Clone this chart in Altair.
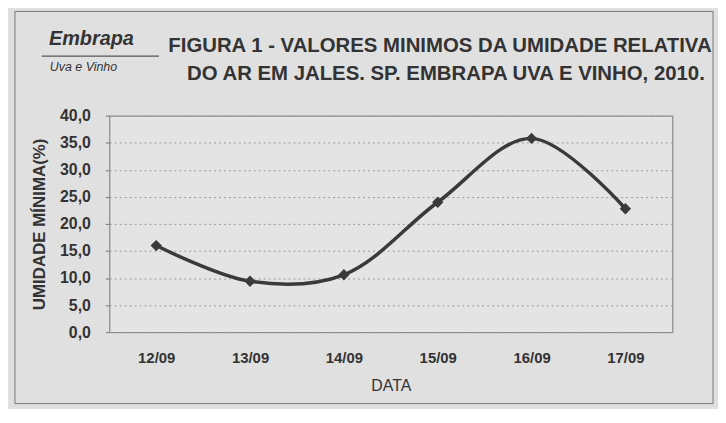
import altair as alt
import pandas as pd

# ---- data ----
dates = ["12/09", "13/09", "14/09", "15/09", "16/09", "17/09"]
values = [16.0, 9.4, 10.6, 24.0, 35.8, 22.8]
y_ticks = [0, 5, 10, 15, 20, 25, 30, 35, 40]

title_lines = [
    "FIGURA 1 - VALORES MINIMOS DA UMIDADE RELATIVA",
    "DO AR EM JALES. SP.  EMBRAPA UVA E VINHO, 2010.",
]
logo_top = "Embrapa"
logo_bottom = "Uva e Vinho"
x_title = "DATA"
y_title = "UMIDADE MÍNIMA(%)"

df = pd.DataFrame({"data": dates, "umidade": values})
one = pd.DataFrame({"k": [0]})

W, H = 567, 218
FONT = "Liberation Sans"
INK = "#333333"

x = alt.X(
    "data:O",
    sort=dates,
    scale=alt.Scale(type="point", padding=0.5),
    axis=alt.Axis(
        title=x_title, labelAngle=0, ticks=False, domain=False,
        labelFont=FONT, labelFontSize=15, labelFontWeight="bold", labelColor=INK,
        labelPadding=19, titleFont=FONT, titleFontSize=16, titleFontWeight="normal",
        titleColor=INK, titlePadding=12,
    ),
)
y = alt.Y(
    "umidade:Q",
    scale=alt.Scale(domain=[0, 40], nice=False),
    axis=alt.Axis(
        values=y_ticks, title=y_title,
        labelExpr="replace(format(datum.value, '.1f'), '.', ',')",
        grid=True, gridDash=[2, 3], gridColor="#9a9a9a", gridWidth=1,
        domain=False, tickSize=4, tickColor="#777777",
        labelFont=FONT, labelFontSize=16, labelFontWeight="bold", labelColor=INK,
        labelPadding=15, titleFont=FONT, titleFontSize=17, titleFontWeight="bold",
        titleColor=INK, titlePadding=11,
    ),
)

base = alt.Chart(df)
line = base.mark_line(interpolate="catmull-rom", color="#3a3a3a", strokeWidth=3.5).encode(x=x, y=y)
pts = base.mark_point(shape="diamond", filled=True, size=130, color="#3a3a3a", opacity=1).encode(x=x, y=y)

def txt(s, xv, yv, size, weight="bold", style="normal", align="center"):
    return alt.Chart(one).mark_text(
        font=FONT, fontSize=size, fontWeight=weight, fontStyle=style,
        align=align, baseline="middle", color=INK,
    ).encode(x=alt.value(xv), y=alt.value(yv), text=alt.value(s))

t1 = txt(title_lines[0], 333, -70, 20.5)
t2 = txt(title_lines[1], 339, -42, 20.5)
l1 = txt(logo_top, -18, -77, 20, style="italic")
l2 = txt(logo_bottom, -26, -49, 12.5, weight="normal", style="italic")
logo_rule = alt.Chart(one).mark_rule(color="#555555", strokeWidth=1.2).encode(
    x=alt.value(-68), x2=alt.value(50), y=alt.value(-60)
)
frame = alt.Chart(one).mark_rect(fill=None, stroke="#777777", strokeWidth=1).encode(
    x=alt.value(-95), x2=alt.value(608), y=alt.value(-105), y2=alt.value(290)
)

chart = (
    alt.layer(frame, line, pts, t1, t2, l1, l2, logo_rule)
    .properties(
        width=W, height=H,
        padding={"left": 102, "top": 107, "right": 46, "bottom": 76},
        autosize=alt.AutoSizeParams(type="none"),
    )
    .configure(background="#e0e0e0")
    .configure_view(stroke="#777777", strokeWidth=1, fill="#e4e4e4")
)

chart.save("out.html", embed_options={"renderer": "svg", "actions": False})
